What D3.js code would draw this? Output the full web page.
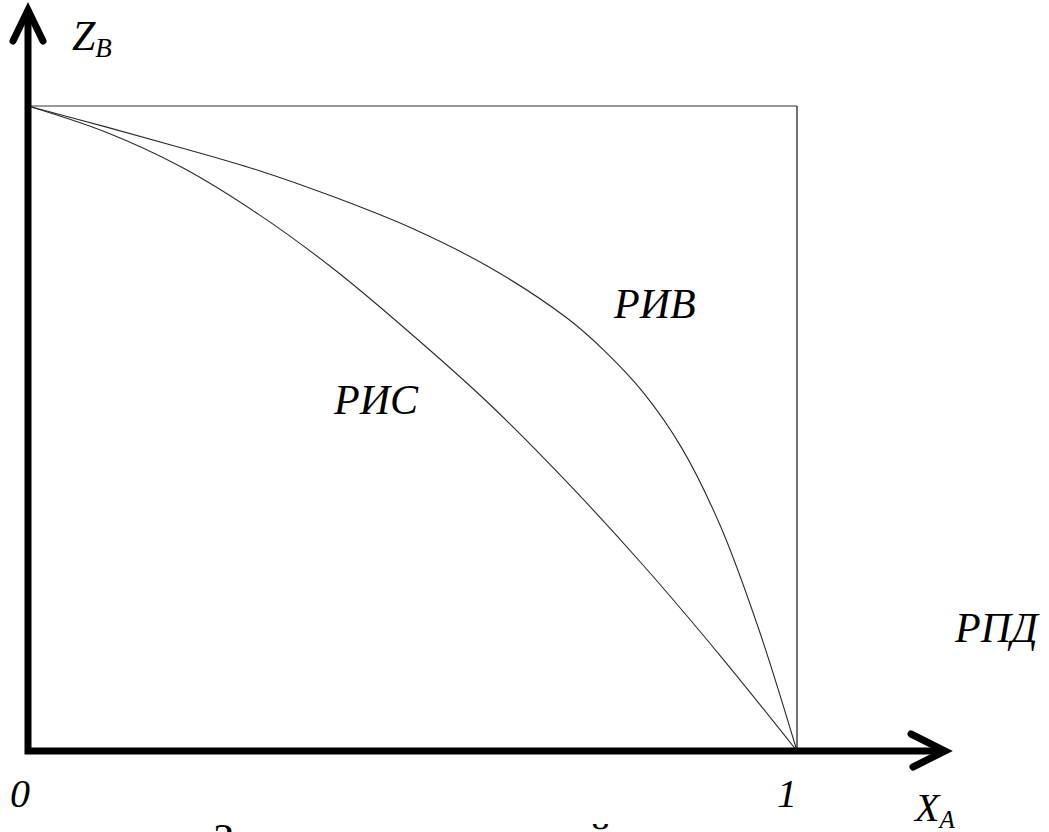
<!DOCTYPE html>
<html>
<head>
<meta charset="utf-8">
<script src="https://cdn.jsdelivr.net/npm/d3@7"></script>
<style>
  html, body { margin: 0; padding: 0; background: #fff; overflow: hidden; }
  svg { display: block; }
</style>
</head>
<body>
<script>
// Curve РИВ (upper) — X_A vs Z_B
const rivX = [0, 0.10, 0.20, 0.30, 0.40, 0.50, 0.60, 0.70, 0.75, 0.80, 0.85, 0.90, 0.95, 1];
const rivZ = [1, 0.968, 0.935, 0.900, 0.858, 0.810, 0.750, 0.672, 0.620, 0.556, 0.470, 0.350, 0.190, 0];

// Curve РИС (lower)
const risX = [0, 0.10, 0.20, 0.30, 0.40, 0.50, 0.60, 0.70, 0.80, 0.90, 1];
const risZ = [1, 0.960, 0.905, 0.832, 0.745, 0.645, 0.538, 0.418, 0.288, 0.148, 0];

// Tick labels on the X_A axis
const tickValues = [0, 1];
const tickLabels = ["0", "1"];

const FONT = '"Liberation Serif"';

const W = 1049, H = 832;
const svg = d3.select("body").append("svg").attr("width", W).attr("height", H);

const x = d3.scaleLinear().domain([0, 1]).range([28, 797]);
const y = d3.scaleLinear().domain([0, 1]).range([751, 106]);

// Axis extents (beyond the unit square, to the arrow tips)
const xMax = x.invert(945);
const yMax = y.invert(10);

// Unit square frame
svg.append("line")
  .attr("x1", x(0)).attr("y1", y(1)).attr("x2", x(1)).attr("y2", y(1))
  .attr("stroke", "#777").attr("stroke-width", 1.3);
svg.append("line")
  .attr("x1", x(1)).attr("y1", y(1)).attr("x2", x(1)).attr("y2", y(0))
  .attr("stroke", "#111").attr("stroke-width", 1.2);

// Curves
const line = d3.line().x(d => x(d[0])).y(d => y(d[1])).curve(d3.curveCatmullRom.alpha(0.5));
[[rivX, rivZ], [risX, risZ]].forEach(([xs, zs]) => {
  svg.append("path")
    .datum(xs.map((v, i) => [v, zs[i]]))
    .attr("d", line)
    .attr("fill", "none")
    .attr("stroke", "#2a2a2a")
    .attr("stroke-width", 1.1);
});

// Axes with open arrowheads
function styled(sel) {
  return sel.attr("stroke", "#000").attr("stroke-width", 7).attr("fill", "none");
}
styled(svg.append("path")
  .attr("d", `M${x(0)},${y(yMax)} L${x(0)},${y(0)} L${x(xMax)},${y(0)}`)
  .attr("stroke-linejoin", "miter").attr("stroke-linecap", "butt"));

styled(svg.append("path")
  .attr("d", `M${x(0) - 15},${y(yMax) + 31} L${x(0)},${y(yMax)} L${x(0) + 15},${y(yMax) + 31}`)
  .attr("stroke-linecap", "round").attr("stroke-linejoin", "miter"));

styled(svg.append("path")
  .attr("d", `M${x(xMax) - 34},${y(0) - 17} L${x(xMax)},${y(0)} L${x(xMax) - 32},${y(0) + 16}`)
  .attr("stroke-linecap", "round").attr("stroke-linejoin", "miter"));

// Tick labels
svg.selectAll("text.tick")
  .data(tickValues)
  .join("text")
  .attr("class", "tick")
  .attr("x", d => x(d) - (d === 0 ? 8 : 10))
  .attr("y", 807)
  .attr("font-size", 40)
  .attr("font-style", "italic")
  .style("font-family", FONT)
  .attr("text-anchor", "middle")
  .text((d, i) => tickLabels[i]);

// Axis titles
const zLabel = svg.append("text").attr("x", 72).attr("y", 50)
  .attr("font-size", 42).attr("font-style", "italic").style("font-family", FONT);
zLabel.append("tspan").text("Z");
zLabel.append("tspan").attr("font-size", 27).attr("dy", 7).text("B");

const xLabel = svg.append("text").attr("x", 915).attr("y", 821)
  .attr("font-size", 40).attr("font-style", "italic").style("font-family", FONT);
xLabel.append("tspan").text("X");
xLabel.append("tspan").attr("font-size", 25).attr("dy", 7).text("A");

// Region labels
const regionLabels = [
  { text: "РИВ", x: 614, y: 318 },
  { text: "РИС", x: 334, y: 414 },
  { text: "РПД", x: 955, y: 642 }
];
svg.selectAll("text.region")
  .data(regionLabels)
  .join("text")
  .attr("class", "region")
  .attr("x", d => d.x).attr("y", d => d.y)
  .attr("font-size", 42)
  .attr("font-style", "italic")
  .style("font-family", FONT)
  .text(d => d.text);

// Figure caption (runs off the bottom edge)
svg.append("text")
  .attr("x", 213).attr("y", 853)
  .attr("font-size", 42)
  .style("font-family", FONT)
  .text("Зависимость степеней превращения");
</script>
</body>
</html>
